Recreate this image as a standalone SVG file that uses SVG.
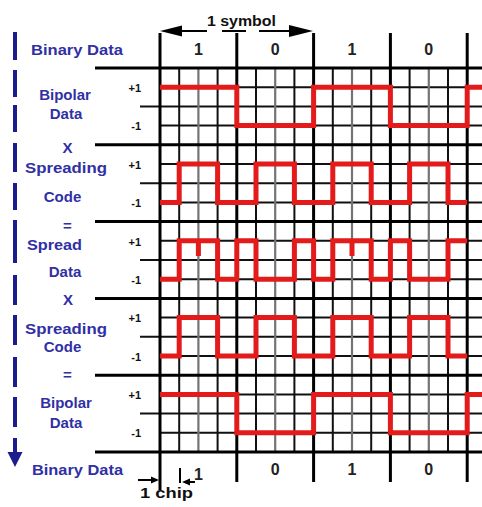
<svg xmlns="http://www.w3.org/2000/svg" width="482" height="507" viewBox="0 0 482 507">
<style>
.bg{fill:#ffffff}
.lbl{font-family:"Liberation Sans",Arial,sans-serif;font-weight:bold;fill:#3030a4;font-size:15px}
.tick{font-family:"Liberation Sans",Arial,sans-serif;font-weight:bold;fill:#111;font-size:11px;text-anchor:end}
.bit{font-family:"Liberation Sans",Arial,sans-serif;font-weight:bold;fill:#222;font-size:16px;text-anchor:middle}
.ann{font-family:"Liberation Sans",Arial,sans-serif;font-weight:bold;fill:#111;font-size:14px}
.g1{stroke:#111;stroke-width:2;fill:none}
.g2{stroke:#747474;stroke-width:2.2;fill:none}
.thk{stroke:#000;stroke-width:3;fill:none}
.wave{stroke:#e31b1b;stroke-width:5;fill:none;stroke-linejoin:miter;stroke-linecap:butt}
.bar{stroke:#1c1c8e;stroke-width:4;fill:none}
</style>
<rect class="bg" x="0" y="0" width="482" height="507"/>

<g id="grid">
  <g class="g1">
    <path d="M160,87.2H482M160,125.6H482M160,164H482M160,202.4H482M160,240.8H482M160,279.2H482M160,317.6H482M160,356H482M160,394.4H482M160,432.8H482"/>
    <path d="M140,106.4H482M140,183.2H482M140,260H482M140,336.8H482M140,413.6H482"/>
    <path d="M179.2,68V452M217.6,68V452M256,68V452M294.4,68V452M332.8,68V452M371.2,68V452M409.6,68V452M448,68V452"/>
  </g>
  <g class="g2">
    <path d="M198.4,68V452M275.2,68V452M352,68V452M428.8,68V452"/>
  </g>
  <g class="thk">
    <path d="M95,68H482M95,144.8H482M95,221.6H482M95,298.4H482M95,375.2H482M95,452H482"/>
    <path d="M160,33V490M236.8,33V482M313.6,33V482M390.4,33V482M467.2,33V482"/>
  </g>
</g>

<g id="connectors">
  <g id="bipolar1"><path class="wave" d="M160,87.2H236.8V125.6H313.6V87.2H390.4V125.6H467.2V87.2H482"/></g>
  <g id="code1"><path class="wave" d="M160,202.4H179.2V164H217.6V202.4H256V164H294.4V202.4H332.8V164H371.2V202.4H409.6V164H448V202.4H467.2"/></g>
  <g id="spread"><path class="wave" d="M160,279.2H179.2V240.8H217.6V279.2H236.8V240.8H256V279.2H294.4V240.8H313.6V279.2H332.8V240.8H371.2V279.2H390.4V240.8H409.6V279.2H448V240.8H467.2"/>
    <path class="wave" stroke-width="3" d="M198.4,241V256M352,241V256"/></g>
  <g id="code2"><path class="wave" d="M160,356H179.2V317.6H217.6V356H256V317.6H294.4V356H332.8V317.6H371.2V356H409.6V317.6H448V356H467.2"/></g>
  <g id="bipolar2"><path class="wave" d="M160,394.4H236.8V432.8H313.6V394.4H390.4V432.8H467.2V394.4H482"/></g>
</g>

<g id="symbol-arrow">
  <path d="M175,31H207M222,31H246M259,31H292" stroke="#000" stroke-width="2.2" fill="none"/>
  <polygon points="160,31 182,25.5 182,36.5" fill="#000"/>
  <polygon points="313,31 289,25 289,37" fill="#000"/>
  <text class="ann" x="207" y="26" textLength="69" lengthAdjust="spacingAndGlyphs">1 symbol</text>
</g>

<g id="bits-top">
  <text class="bit" x="198.4" y="55">1</text>
  <text class="bit" x="275.2" y="55">0</text>
  <text class="bit" x="352" y="55">1</text>
  <text class="bit" x="428.8" y="55">0</text>
</g>

<g id="bits-bottom">
  <text class="bit" x="198.4" y="480">1</text>
  <text class="bit" x="275.2" y="475">0</text>
  <text class="bit" x="352" y="475">1</text>
  <text class="bit" x="428.8" y="475">0</text>
</g>

<g id="chip-annotation">
  <path d="M138,480H152" stroke="#000" stroke-width="2" fill="none"/>
  <polygon points="159,480 151,476.5 151,483.5" fill="#000"/>
  <path d="M180,468V483" stroke="#000" stroke-width="2" fill="none"/>
  <path d="M189,482H195" stroke="#000" stroke-width="2" fill="none"/>
  <polygon points="182,482 190,478.5 190,485.5" fill="#000"/>
  <text class="ann" x="140" y="498" textLength="53" lengthAdjust="spacingAndGlyphs">1 chip</text>
</g>

<g id="ticks">
  <text class="tick" x="141" y="92">+1</text><text class="tick" x="141" y="130">-1</text>
  <text class="tick" x="141" y="169">+1</text><text class="tick" x="141" y="207">-1</text>
  <text class="tick" x="141" y="246">+1</text><text class="tick" x="141" y="284">-1</text>
  <text class="tick" x="141" y="322">+1</text><text class="tick" x="141" y="361">-1</text>
  <text class="tick" x="141" y="399">+1</text><text class="tick" x="141" y="437">-1</text>
</g>

<g id="flow-bar">
  <path class="bar" d="M15,32V60M15,70V97M15,105V132M15,143V172M15,183V210M15,220V263M15,275V305M15,315V345M15,357V387M15,397V427M15,438V455"/>
  <polygon points="7.5,452 22.5,452 15,467" fill="#1c1c8e"/>
</g>

<g id="labels">
  <text class="lbl" x="31" y="55" textLength="92" lengthAdjust="spacingAndGlyphs">Binary Data</text>
  <text class="lbl" x="65" y="100" text-anchor="middle">Bipolar</text>
  <text class="lbl" x="66" y="119" text-anchor="middle">Data</text>
  <text class="lbl" x="67.5" y="153" text-anchor="middle">X</text>
  <text class="lbl" x="25" y="172.5" textLength="82" lengthAdjust="spacingAndGlyphs">Spreading</text>
  <text class="lbl" x="62.5" y="202" text-anchor="middle">Code</text>
  <text class="lbl" x="67.5" y="230.5" text-anchor="middle">=</text>
  <text class="lbl" x="27" y="250" textLength="55" lengthAdjust="spacingAndGlyphs">Spread</text>
  <text class="lbl" x="65" y="277" text-anchor="middle">Data</text>
  <text class="lbl" x="68" y="305" text-anchor="middle">X</text>
  <text class="lbl" x="25" y="334" textLength="82" lengthAdjust="spacingAndGlyphs">Spreading</text>
  <text class="lbl" x="62.5" y="352" text-anchor="middle">Code</text>
  <text class="lbl" x="67.5" y="380" text-anchor="middle">=</text>
  <text class="lbl" x="66" y="408" text-anchor="middle">Bipolar</text>
  <text class="lbl" x="66" y="428" text-anchor="middle">Data</text>
  <text class="lbl" x="32" y="475" textLength="91" lengthAdjust="spacingAndGlyphs">Binary Data</text>
</g>
</svg>
